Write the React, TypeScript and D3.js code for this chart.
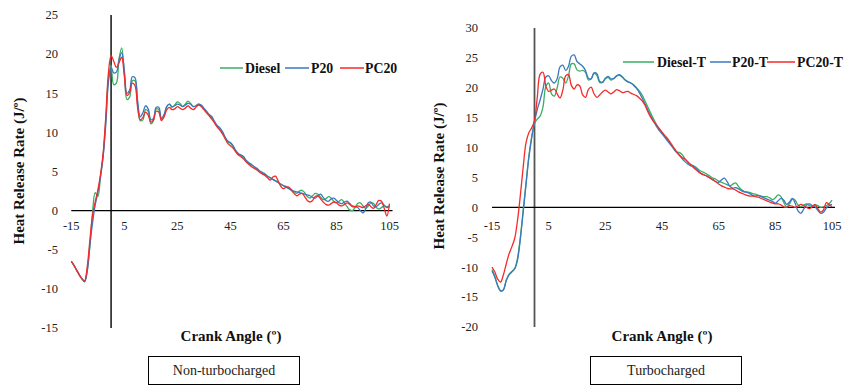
import React from "react";
import * as d3 from "d3";

// Crank angle grid (degrees), shared by every series
const crankAngle: number[] = d3.range(-15, 106, 1);

// Non-turbocharged heat release rate (J/°)
const diesel: number[] = [
  -6.5, -7.0, -7.6, -8.2, -8.7, -9.0, -7.6, -4.6, -0.3, 2.3,
  1.8, 4.3, 7.0, 11.5, 16.8, 18.6, 16.1, 16.3, 19.4, 20.8,
  17.6, 14.2, 14.5, 16.6, 16.6, 13.6, 11.5, 11.6, 12.9, 12.7,
  11.1, 11.5, 13.0, 12.9, 11.6, 12.1, 13.3, 13.6, 13.2, 13.5,
  13.9, 13.7, 13.3, 13.6, 14.0, 13.7, 13.3, 13.4, 13.6, 13.4,
  13.0, 12.6, 12.2, 11.9, 11.3, 10.8, 10.5, 10.0, 9.3, 8.8,
  8.6, 8.2, 7.6, 7.2, 7.1, 6.8, 6.3, 6.0, 5.8, 5.6,
  5.3, 5.0, 4.8, 4.6, 4.4, 4.2, 4.0, 3.8, 3.6, 3.3,
  3.2, 3.1, 2.9, 2.7, 2.4, 2.2, 2.5, 2.6, 2.3, 1.8,
  1.6, 1.9, 2.2, 2.1, 1.7, 1.4, 1.5, 1.8, 1.6, 1.2,
  1.0, 1.2, 1.4, 1.0, 0.5, 0.1, 0.0, 0.4, 0.9, 1.0,
  0.6, 0.3, 0.6, 1.0, 0.9, 0.4, 0.2, 0.4, 0.6, 0.5,
  0.6,
];
const p20: number[] = [
  -6.5, -7.0, -7.6, -8.2, -8.7, -9.1, -7.8, -4.4, -1.6, 0.7,
  2.3, 4.3, 6.9, 11.0, 16.4, 18.3, 17.6, 17.7, 19.3, 20.2,
  17.9, 15.0, 15.4, 17.1, 17.0, 14.1, 12.0, 12.5, 13.4, 13.0,
  11.6, 11.8, 13.2, 13.2, 11.8, 12.3, 13.3, 13.6, 13.3, 13.4,
  13.6, 13.5, 13.3, 13.5, 13.7, 13.6, 13.3, 13.4, 13.6, 13.5,
  13.1, 12.7, 12.3, 12.0, 11.4, 10.9, 10.6, 10.1, 9.4, 8.9,
  8.7, 8.3, 7.7, 7.3, 7.1, 6.9, 6.4, 6.1, 5.9, 5.6,
  5.4, 5.1, 4.9, 4.7, 4.4, 4.2, 4.0, 3.8, 3.6, 3.4,
  3.2, 3.0, 2.8, 2.6, 2.5, 2.4, 2.3, 2.2, 2.1, 2.0,
  1.9, 1.7, 1.6, 1.9, 2.1, 1.7, 1.3, 1.2, 1.5, 1.6,
  1.3, 1.0, 0.9, 1.1, 1.2, 0.9, 0.6, 0.5, 0.4, 0.0,
  -0.3, 0.2, 1.0, 1.1, 0.6, 0.5, 0.8, 1.0, 0.7, 0.4,
  0.5,
];
const pc20: number[] = [
  -6.5, -7.0, -7.6, -8.2, -8.7, -9.0, -7.2, -3.8, -0.6, 1.1,
  2.6, 4.6, 7.3, 12.0, 17.6, 19.8, 19.1, 18.3, 18.9, 19.6,
  17.2, 14.7, 15.1, 16.3, 16.0, 13.2, 11.6, 11.9, 12.6, 12.2,
  11.3, 11.6, 12.7, 12.6, 11.5, 12.0, 12.9, 13.2, 12.9, 13.0,
  13.3, 13.1, 12.9, 13.1, 13.4, 13.1, 12.9, 13.2, 13.5, 13.3,
  12.9, 12.5, 12.1, 11.7, 11.2, 10.7, 10.3, 9.8, 9.2, 8.6,
  8.3, 8.0, 7.5, 7.1, 6.9, 6.6, 6.2, 5.9, 5.6, 5.4,
  5.2, 4.9, 4.7, 4.5, 4.2, 3.9, 4.3, 4.4, 3.8, 3.1,
  2.8, 3.0, 3.0, 2.6, 2.2, 1.9, 2.1, 2.2, 1.8, 1.3,
  1.1, 1.3, 1.8, 1.9, 1.5, 1.1, 0.8, 0.7, 0.9, 1.1,
  1.0, 0.7, 0.6, 0.8, 1.0, 0.8, 0.5, 0.5, 0.6, 0.5,
  0.4, 0.6, 0.8, 0.5, 0.3, 0.8, 1.3, 1.2, 0.3, -0.7,
  0.9,
];

// Turbocharged heat release rate (J/°)
const dieselT: number[] = [
  -10.4, -11.5, -13.0, -13.9, -13.8, -12.2, -11.2, -10.7, -10.2, -8.5,
  -5.0, -0.5, 4.0, 8.5, 11.8, 14.0, 14.8, 15.3, 16.8, 20.2,
  20.8, 19.0, 18.6, 20.0, 21.8, 21.6, 20.8, 22.0, 24.0, 24.0,
  23.0, 22.8, 22.9, 22.6, 21.3, 21.5, 22.4, 22.1, 20.9, 20.9,
  21.5, 21.7, 21.3, 21.5, 22.0, 22.1, 21.8, 21.3, 21.0, 20.8,
  20.5, 20.0, 19.5, 18.8, 17.8, 16.8, 15.8, 14.8, 13.9, 13.1,
  12.4, 11.9, 11.3, 10.6, 9.9, 9.3, 9.2, 8.9, 8.2, 7.6,
  7.2, 7.0, 6.7, 6.3, 6.0, 5.8, 5.5, 5.2, 4.9, 4.7,
  4.4, 4.2, 4.0, 3.8, 3.6, 3.9, 4.1, 3.5, 3.0, 2.7,
  2.6, 2.5, 2.3, 2.2, 2.0, 1.9, 1.8, 1.8, 1.6, 1.3,
  1.6, 2.1, 1.8, 0.8, 0.1, 0.6, 1.4, 1.2, 0.4, 0.1,
  0.4, 0.6, 0.3, 0.2, 0.4, 0.3, 0.0, 0.1, 0.3, 0.6,
  1.2,
];
const p20T: number[] = [
  -10.6, -11.7, -13.1, -14.0, -13.8, -12.3, -11.3, -10.8, -10.3, -8.8,
  -5.3, -0.8, 3.8, 8.3, 11.6, 14.3, 16.4, 18.0, 19.8, 21.8,
  22.0, 21.2, 20.8, 21.5, 23.5, 23.8, 22.9, 23.6, 25.3, 25.5,
  24.4, 24.0, 23.6, 22.9, 21.6, 21.5, 22.5, 22.4, 21.1, 20.9,
  21.6, 21.9, 21.5, 21.6, 22.0, 22.2, 21.8, 21.3, 21.0, 20.8,
  20.4, 19.9, 19.2, 18.3, 17.3, 16.3, 15.3, 14.4, 13.6, 12.9,
  12.3, 11.7, 11.1, 10.5, 9.9, 9.3, 8.8, 8.2, 7.7, 7.3,
  7.0, 6.9, 6.5, 6.0, 5.6, 5.4, 5.2, 4.9, 4.6, 4.3,
  4.2, 4.6, 4.9, 4.3, 3.5, 3.2, 3.3, 3.1, 2.8, 2.6,
  2.5, 2.3, 2.0, 1.9, 2.0, 1.8, 1.6, 1.4, 1.2, 1.0,
  0.7, 1.1, 1.5, 1.2, 0.5, 0.9, 1.5, 0.7, -0.6, -1.0,
  -0.3, 0.4, 0.6, 0.3, 0.1, -0.5, -1.0, -0.8, -0.1, 0.3,
  0.5,
];
const pc20T: number[] = [
  -10.0, -10.8, -12.0, -12.5, -11.3, -9.5, -7.8, -6.6, -5.2, -2.2,
  2.0, 6.7, 10.8, 12.5, 13.3, 14.5, 18.5, 22.3, 22.6, 20.3,
  19.4, 19.6, 19.8, 19.0, 18.3, 19.6, 22.0, 22.2, 20.4, 19.8,
  20.5, 20.3, 18.8, 18.4, 19.7, 20.1, 19.0, 18.4, 18.8, 19.3,
  19.6, 19.3, 19.0, 19.3, 19.7, 19.5, 19.2, 19.3, 19.4, 19.1,
  18.9, 18.7, 18.3, 17.8, 17.1, 16.0, 15.1, 14.4, 13.8, 13.2,
  12.6, 12.0, 11.5, 10.8, 10.1, 9.4, 8.8, 8.4, 8.1, 7.7,
  7.2, 6.7, 6.3, 5.9, 5.6, 5.4, 5.2, 4.9, 4.6, 4.3,
  3.9, 3.6, 3.4, 3.2, 3.1, 3.1, 2.9, 2.6, 2.4, 2.2,
  2.0, 1.9, 1.9, 1.8, 1.7, 1.5, 1.3, 1.1, 0.9, 0.7,
  0.6, 0.6, 0.4, 0.1, 0.0, 0.3, 0.2, 0.0, 0.2, 0.5,
  0.3, 0.0, -0.2, 0.1, 0.5, -0.2, -0.8, -0.4, 0.8, 0.5,
  0.1,
];

const xTicks: number[] = [-15, 5, 25, 45, 65, 85, 105];
const leftYTicks: number[] = [-15, -10, -5, 0, 5, 10, 15, 20, 25];
const rightYTicks: number[] = [-20, -15, -10, -5, 0, 5, 10, 15, 20, 25, 30];

const GREEN = "#3aae62";
const BLUE = "#3b78c0";
const RED = "#f52a2a";

const SERIF = "'Liberation Serif', 'Times New Roman', serif";

type Series = { name: string; values: number[]; color: string };

type PanelProps = {
  xRange: [number, number];
  yDomain: [number, number];
  yRange: [number, number];
  yTicks: number[];
  yLabelRight: number;
  yTitleX: number;
  yTitleY: number;
  xTitleX: number;
  axisColor: string;
  axisWidth: number;
  series: Series[];
  legendY: number;
  legend: { lineX1: number; lineX2: number; textX: number }[];
  box: { x: number; y: number; w: number; h: number; label: string };
};

function Panel(p: PanelProps) {
  const x = d3.scaleLinear().domain([-15, 105]).range(p.xRange);
  const y = d3.scaleLinear().domain(p.yDomain).range(p.yRange);
  const line = d3
    .line<number>()
    .x((_, i) => x(crankAngle[i]))
    .y((v) => y(v))
    .curve(d3.curveCatmullRom.alpha(0.5));
  const x0 = x(0);
  const y0 = y(0);
  return (
    <g>
      {/* y-axis line at TDC */}
      <line
        x1={x0}
        x2={x0}
        y1={y(p.yDomain[1])}
        y2={y(p.yDomain[0])}
        stroke={p.axisColor}
        strokeWidth={p.axisWidth}
      />
      {/* x-axis line at zero */}
      <line x1={x(-15)} x2={x(105) + 3} y1={y0} y2={y0} stroke="#000" strokeWidth={1.2} />
      {p.yTicks.map((t) => (
        <text
          key={"y" + t}
          x={p.yLabelRight}
          y={y(t) + 4.3}
          textAnchor="end"
          fontFamily={SERIF}
          fontSize={12.5}
          fill="#222"
        >
          {t}
        </text>
      ))}
      {xTicks.map((t) => (
        <text
          key={"x" + t}
          x={x(t)}
          y={230}
          textAnchor="middle"
          fontFamily={SERIF}
          fontSize={12.5}
          fill="#222"
        >
          {t}
        </text>
      ))}
      {p.series.map((s) => (
        <path
          key={s.name}
          d={line(s.values) || ""}
          fill="none"
          stroke={s.color}
          strokeWidth={1.3}
          strokeLinejoin="round"
        />
      ))}
      {p.series.map((s, i) => (
        <g key={"lg" + s.name}>
          <line
            x1={p.legend[i].lineX1}
            x2={p.legend[i].lineX2}
            y1={p.legendY}
            y2={p.legendY}
            stroke={s.color}
            strokeWidth={1.5}
          />
          <text
            x={p.legend[i].textX}
            y={p.legendY + 4.7}
            fontFamily={SERIF}
            fontWeight="bold"
            fontSize={13.8}
            fill="#111"
          >
            {s.name}
          </text>
        </g>
      ))}
      <text
        transform={`translate(${p.yTitleX},${p.yTitleY}) rotate(-90)`}
        textAnchor="middle"
        fontFamily={SERIF}
        fontWeight="bold"
        fontSize={15}
        fill="#111"
      >
        Heat Release Rate (J/º)
      </text>
      <text
        x={p.xTitleX}
        y={341}
        textAnchor="middle"
        fontFamily={SERIF}
        fontWeight="bold"
        fontSize={15}
        fill="#111"
      >
        Crank Angle (º)
      </text>
      <rect
        x={p.box.x}
        y={p.box.y}
        width={p.box.w}
        height={p.box.h}
        fill="none"
        stroke="#000"
        strokeWidth={1}
      />
      <text
        x={p.box.x + p.box.w / 2}
        y={p.box.y + 18.5}
        textAnchor="middle"
        fontFamily={SERIF}
        fontSize={14}
        fill="#222"
      >
        {p.box.label}
      </text>
    </g>
  );
}

export default function App() {
  return (
    <svg
      width={849}
      height={389}
      viewBox="0 0 849 389"
      style={{ position: "absolute", left: 0, top: 0, background: "#fff" }}
    >
      <rect width={849} height={389} fill="#fff" />
      <Panel
        xRange={[71.3, 389.5]}
        yDomain={[-15, 25]}
        yRange={[328, 15]}
        yTicks={leftYTicks}
        yLabelRight={58}
        yTitleX={24}
        yTitleY={171}
        xTitleX={231}
        axisColor="#000"
        axisWidth={1.4}
        series={[
          { name: "Diesel", values: diesel, color: GREEN },
          { name: "P20", values: p20, color: BLUE },
          { name: "PC20", values: pc20, color: RED },
        ]}
        legendY={68}
        legend={[
          { lineX1: 220, lineX2: 243, textX: 245 },
          { lineX1: 285, lineX2: 309, textX: 311 },
          { lineX1: 340, lineX2: 364, textX: 365 },
        ]}
        box={{ x: 148.5, y: 356.5, w: 151, h: 28, label: "Non-turbocharged" }}
      />
      <Panel
        xRange={[492, 832]}
        yDomain={[-20, 30]}
        yRange={[327, 28]}
        yTicks={rightYTicks}
        yLabelRight={478}
        yTitleX={444}
        yTitleY={176}
        xTitleX={662}
        axisColor="#555"
        axisWidth={1.8}
        series={[
          { name: "Diesel-T", values: dieselT, color: GREEN },
          { name: "P20-T", values: p20T, color: BLUE },
          { name: "PC20-T", values: pc20T, color: RED },
        ]}
        legendY={62}
        legend={[
          { lineX1: 623, lineX2: 654, textX: 657 },
          { lineX1: 710, lineX2: 731, textX: 732 },
          { lineX1: 767, lineX2: 795, textX: 797 },
        ]}
        box={{ x: 590.5, y: 356.5, w: 151, h: 28, label: "Turbocharged" }}
      />
    </svg>
  );
}
